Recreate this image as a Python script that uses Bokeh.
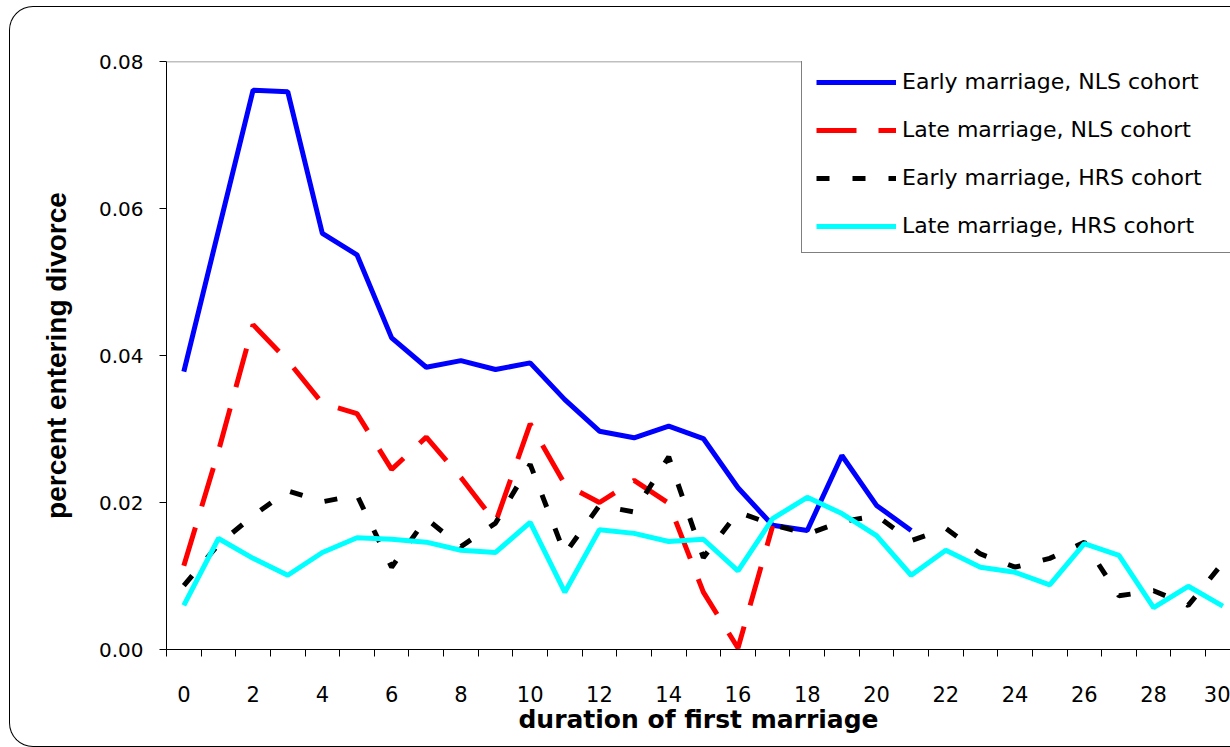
from bokeh.plotting import figure
from bokeh.models import (FixedTicker, Legend, LegendItem, Span, InlineStyleSheet,
                          PrintfTickFormatter, Range1d)
from bokeh.embed import file_html
from bokeh.resources import INLINE

# ---- data ----
durations = list(range(31))

early_nls = [0.0378, 0.0570, 0.0761, 0.0759, 0.0566, 0.0537, 0.0424, 0.0384, 0.0393, 0.0381,
             0.0390, 0.0340, 0.0297, 0.0288, 0.0304, 0.0287, 0.0220, 0.0169, 0.0162, 0.0264,
             0.0196, 0.0162]
late_nls = [0.0114, 0.0270, 0.0442, 0.0393, 0.0335, 0.0321, 0.0245, 0.0289, 0.0234, 0.0173,
            0.0307, 0.0225, 0.0200, 0.0230, 0.0199, 0.0078, 0.0002, 0.0168]
early_hrs = [0.0087, 0.0143, 0.0182, 0.0216, 0.0201, 0.0210, 0.0112, 0.0178, 0.0140, 0.0172,
             0.0252, 0.0130, 0.0196, 0.0187, 0.0262, 0.0125, 0.0187, 0.0170, 0.0157, 0.0174,
             0.0182, 0.0148, 0.0165, 0.0130, 0.0112, 0.0124, 0.0146, 0.0073, 0.0080, 0.0060,
             0.0118]
late_hrs = [0.0060, 0.0151, 0.0124, 0.0101, 0.0132, 0.0152, 0.0150, 0.0146, 0.0135, 0.0132,
            0.0173, 0.0078, 0.0163, 0.0158, 0.0147, 0.0150, 0.0107, 0.0178, 0.0207, 0.0185,
            0.0155, 0.0101, 0.0135, 0.0112, 0.0105, 0.0088, 0.0144, 0.0128, 0.0057, 0.0086,
            0.0059]

series_names = ["Early marriage, NLS cohort", "Late marriage, NLS cohort",
                "Early marriage, HRS cohort", "Late marriage, HRS cohort"]
x_tick_values = list(range(0, 31, 2))
y_tick_values = [0.0, 0.02, 0.04, 0.06, 0.08]

FONT = "Liberation Sans"
WIDE = "DejaVu Sans"

border_css = InlineStyleSheet(css="""
:host { position: relative; }
:host::after {
  content: '';
  position: absolute;
  left: 9px; top: 6px;
  width: 1221px; height: 741px;
  box-sizing: border-box;
  border: 1px solid black;
  border-right: none;
  border-radius: 24px 0 0 24px;
  pointer-events: none;
}
""")

p = figure(width=1230, height=747, output_backend="svg", toolbar_location=None, title=None,
           x_range=Range1d(-0.5, 30.22), y_range=Range1d(0, 0.08),
           min_border_left=166, min_border_right=0, min_border_top=61, min_border_bottom=98,
           background_fill_color="white", border_fill_color="white")
p.stylesheets = [border_css]

p.outline_line_color = None
p.xgrid.visible = False
p.ygrid.visible = False

# top edge of plot area
p.add_layout(Span(location=0.08, dimension="width", line_color="#808080", line_width=1.5))

r1 = p.line(durations[:len(early_nls)], early_nls, line_color="#0000FF", line_width=5)
r2 = p.line(durations[:len(late_nls)], late_nls, line_color="#FF0000", line_width=5,
            line_dash="40 22")
r3 = p.line(durations, early_hrs, line_color="black", line_width=5, line_dash="13 23")
r4 = p.line(durations, late_hrs, line_color="#00FFFF", line_width=5)

# x axis
xa = p.xaxis[0]
xa.ticker = FixedTicker(ticks=x_tick_values, minor_ticks=[i - 0.5 for i in range(32)])
xa.major_tick_out = 0
xa.major_tick_in = 0
xa.minor_tick_out = 7
xa.minor_tick_in = 0
xa.minor_tick_line_color = "black"
xa.axis_line_color = "black"
xa.major_label_text_font = WIDE
xa.major_label_text_font_size = "21px"
xa.major_label_text_color = "black"
xa.major_label_standoff = 29
xa.axis_label = "duration of first marriage"
xa.axis_label_text_font = WIDE
xa.axis_label_text_font_style = "bold"
xa.axis_label_text_font_size = "25px"
xa.axis_label_text_color = "black"
xa.axis_label_standoff = 0

# y axis
ya = p.yaxis[0]
ya.ticker = FixedTicker(ticks=y_tick_values)
ya.formatter = PrintfTickFormatter(format="%.2f")
ya.major_tick_out = 7
ya.major_tick_in = 0
ya.minor_tick_out = 0
ya.minor_tick_in = 0
ya.major_tick_line_color = "black"
ya.axis_line_color = "black"
ya.major_label_text_font = WIDE
ya.major_label_text_font_size = "20px"
ya.major_label_text_color = "black"
ya.major_label_standoff = 16
ya.axis_label = "percent entering divorce"
ya.axis_label_text_font = FONT
ya.axis_label_text_font_style = "bold"
ya.axis_label_text_font_size = "28px"
ya.axis_label_text_color = "black"
ya.axis_label_standoff = 24

legend = Legend(items=[LegendItem(label=series_names[0], renderers=[r1]),
                       LegendItem(label=series_names[1], renderers=[r2]),
                       LegendItem(label=series_names[2], renderers=[r3]),
                       LegendItem(label=series_names[3], renderers=[r4])],
                location=(635, 396), orientation="vertical",
                border_line_color="black", border_line_width=1,
                background_fill_color="white", background_fill_alpha=1.0,
                padding=14, spacing=23, glyph_width=80, glyph_height=24, label_height=24,
                label_width=340, label_standoff=6, margin=0,
                label_text_font=WIDE, label_text_font_size="22px", label_text_color="black")
p.add_layout(legend)

open("out.html", "w").write(file_html(p, INLINE))
